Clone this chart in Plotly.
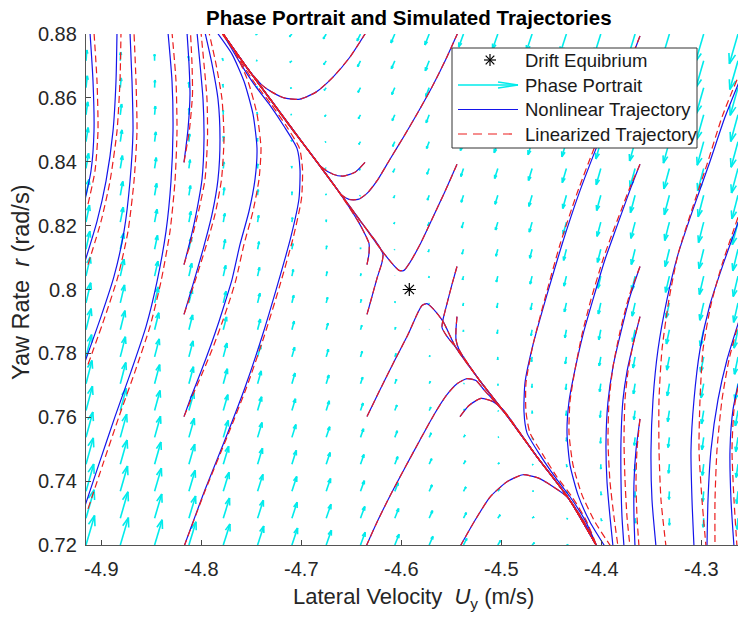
import numpy as np
import plotly.graph_objects as go

# ---------------- data ----------------
X_RANGE = [-4.9153, -4.2633]
Y_RANGE = [0.72, 0.88]

x_ticks = [-4.9, -4.8, -4.7, -4.6, -4.5, -4.4, -4.3]
x_tick_text = ["-4.9", "-4.8", "-4.7", "-4.6", "-4.5", "-4.4", "-4.3"]
y_ticks = [0.72, 0.74, 0.76, 0.78, 0.80, 0.82, 0.84, 0.86, 0.88]
y_tick_text = ["0.72", "0.74", "0.76", "0.78", "0.8", "0.82", "0.84", "0.86", "0.88"]

# quiver grid (20 x 20)
uy_grid = [-4.9153, -4.8810, -4.8467, -4.8124, -4.7780, -4.7437, -4.7094, -4.6751,
           -4.6408, -4.6065, -4.5721, -4.5378, -4.5035, -4.4692, -4.4349, -4.4005,
           -4.3662, -4.3319, -4.2976, -4.2633]
r_grid = [0.7200, 0.7284, 0.7368, 0.7453, 0.7537, 0.7621, 0.7705, 0.7789, 0.7874, 0.7958,
          0.8042, 0.8126, 0.8211, 0.8295, 0.8379, 0.8463, 0.8547, 0.8632, 0.8716, 0.8800]

# drift equilibrium
eq_uy = [-4.592]
eq_r = [0.800]

# local linearisation read from the arrow field (eigen-directions in data units, rates)
stable_dir = [1.0, 0.9]
unstable_dir = [1.0, -0.417]
eig_rates = [-1.0, 0.12]

# ---- trajectories: Uy lists (nonlinear "nl_", linearized "lin_") and shared r lists ----
upper_v_uy = [-4.5443, -4.5563, -4.5693, -4.5813, -4.5913, -4.5973, -4.6023, -4.6093, -4.6203,
              -4.6420, -4.6643, -4.6865, -4.7088, -4.7310, -4.7533, -4.7793]
upper_v_r = [0.8392, 0.8307, 0.8220, 0.8141, 0.8085, 0.8060, 0.8060, 0.8082, 0.8125,
             0.8220, 0.8314, 0.8408, 0.8502, 0.8596, 0.8690, 0.8805]
lower_v_uy = [-4.6343, -4.6213, -4.6063, -4.5933, -4.5843, -4.5793, -4.5743, -4.5683, -4.5583,
              -4.5453, -4.5223, -4.4943, -4.4643, -4.4323, -4.4043]
lower_v_r = [0.7602, 0.7686, 0.7780, 0.7859, 0.7922, 0.7950, 0.7956, 0.7940, 0.7900,
             0.7818, 0.7718, 0.7605, 0.7476, 0.7344, 0.7195]
top_u1_uy = [-4.6353, -4.6513, -4.6683, -4.6853, -4.7013, -4.7163, -4.7293, -4.7393, -4.7533, -4.7793]
top_u1_r = [0.8805, 0.8728, 0.8665, 0.8618, 0.8596, 0.8599, 0.8618, 0.8640, 0.8690, 0.8805]
bot_n1_uy = [-4.5413, -4.5273, -4.5113, -4.4943, -4.4783, -4.4633, -4.4493, -4.4343, -4.4183, -4.4043]
bot_n1_r = [0.7195, 0.7272, 0.7350, 0.7398, 0.7420, 0.7410, 0.7385, 0.7351, 0.7278, 0.7195]
top_u2_uy = [-4.5433, -4.5553, -4.5693, -4.5833, -4.5973, -4.6113, -4.6233, -4.6343, -4.6433,
             -4.6523, -4.6603, -4.6663, -4.6865, -4.7088, -4.7310, -4.7533, -4.7793]
top_u2_r = [0.8805, 0.8722, 0.8634, 0.8555, 0.8480, 0.8408, 0.8345, 0.8301, 0.8282,
            0.8282, 0.8298, 0.8323, 0.8408, 0.8502, 0.8596, 0.8690, 0.8805]
bot_n2_uy = [-4.6353, -4.6233, -4.6093, -4.5953, -4.5813, -4.5673, -4.5553, -4.5443, -4.5343,
             -4.5253, -4.5173, -4.4943, -4.4643, -4.4323, -4.4043]
bot_n2_r = [0.7195, 0.7278, 0.7366, 0.7448, 0.7529, 0.7608, 0.7667, 0.7705, 0.7721,
            0.7715, 0.7686, 0.7605, 0.7476, 0.7344, 0.7195]
top_u3_uy = [-4.6363, -4.6463, -4.6583, -4.6683, -4.6793, -4.6865, -4.7088, -4.7310, -4.7533, -4.7793]
top_u3_r = [0.8398, 0.8367, 0.8355, 0.8361, 0.8382, 0.8408, 0.8502, 0.8596, 0.8690, 0.8805]
bot_n3_uy = [-4.5413, -4.5323, -4.5203, -4.5083, -4.4983, -4.4643, -4.4323, -4.4043]
bot_n3_r = [0.7602, 0.7637, 0.7659, 0.7649, 0.7624, 0.7476, 0.7344, 0.7195]
stub_b3_uy = [-4.6343, -4.6293, -4.6243, -4.6193, -4.6183, -4.6233, -4.6423, -4.6643, -4.6863,
              -4.7093, -4.7313, -4.7533, -4.7793]
stub_b3_r = [0.7922, 0.7978, 0.8035, 0.8085, 0.8110, 0.8141, 0.8220, 0.8314, 0.8408,
             0.8502, 0.8596, 0.8690, 0.8805]
stub_b4_uy = [-4.6343, -4.6323, -4.6323, -4.6363, -4.6433, -4.6643, -4.6863, -4.7093, -4.7313,
              -4.7533, -4.7793]
stub_b4_r = [0.8078, 0.8113, 0.8144, 0.8173, 0.8214, 0.8314, 0.8408, 0.8502, 0.8596, 0.8690, 0.8805]
stub_c3_uy = [-4.5443, -4.5493, -4.5543, -4.5583, -4.5593, -4.5543, -4.5453, -4.5223, -4.4943,
              -4.4643, -4.4323, -4.4043]
stub_c3_r = [0.8072, 0.8016, 0.7956, 0.7906, 0.7881, 0.7853, 0.7818, 0.7718, 0.7605,
             0.7476, 0.7344, 0.7195]
stub_c4_uy = [-4.5443, -4.5453, -4.5453, -4.5423, -4.5223, -4.4943, -4.4643, -4.4323, -4.4043]
stub_c4_r = [0.7915, 0.7875, 0.7843, 0.7812, 0.7718, 0.7605, 0.7476, 0.7344, 0.7195]

# left-hand trajectories (start at Uy = -4.817)
a1_r = [0.7195, 0.7373, 0.7545, 0.7693, 0.7852, 0.8009, 0.8166, 0.8285, 0.8377, 0.8442,
        0.8511, 0.8581, 0.8643, 0.8715, 0.8784, 0.8805]
nl_a1_uy = [-4.8173, -4.7963, -4.7743, -4.7563, -4.7393, -4.7243, -4.7103, -4.7023, -4.7013,
            -4.7043, -4.7173, -4.7323, -4.7473, -4.7623, -4.7753, -4.7793]
lin_a1_uy = [-4.8173, -4.7958, -4.7733, -4.7548, -4.7373, -4.7218, -4.7078, -4.6998, -4.6988,
             -4.7018, -4.7148, -4.7303, -4.7458, -4.7608, -4.7743, -4.7788]
a2_r = [0.7602, 0.7671, 0.7743, 0.7827, 0.7900, 0.7969, 0.8031, 0.8141, 0.8245, 0.8345,
        0.8442, 0.8549, 0.8652, 0.8737, 0.8805]
nl_a2_uy = [-4.8173, -4.8093, -4.8003, -4.7903, -4.7823, -4.7753, -4.7693, -4.7613, -4.7523,
            -4.7463, -4.7443, -4.7483, -4.7573, -4.7693, -4.7843]
lin_a2_uy = [-4.8173, -4.8083, -4.7983, -4.7873, -4.7788, -4.7713, -4.7653, -4.7573, -4.7483,
             -4.7423, -4.7403, -4.7443, -4.7533, -4.7653, -4.7803]
a3_r = [0.7922, 0.8016, 0.8125, 0.8235, 0.8345, 0.8471, 0.8596, 0.8706, 0.8805]
nl_a3_uy = [-4.8173, -4.8083, -4.7983, -4.7893, -4.7833, -4.7813, -4.7833, -4.7893, -4.7963]
lin_a3_uy = [-4.8173, -4.8073, -4.7963, -4.7863, -4.7798, -4.7773, -4.7793, -4.7853, -4.7923]
a4_r = [0.8078, 0.8163, 0.8251, 0.8345, 0.8471, 0.8596, 0.8706, 0.8805]
nl_a4_uy = [-4.8173, -4.8103, -4.8043, -4.7993, -4.7973, -4.7983, -4.8013, -4.8043]
lin_a4_uy = [-4.8173, -4.8093, -4.8023, -4.7963, -4.7938, -4.7943, -4.7973, -4.8003]
a5_r = [0.8398, 0.8502, 0.8612, 0.8706, 0.8805]
nl_a5_uy = [-4.8173, -4.8133, -4.8113, -4.8123, -4.8143]
lin_a5_uy = [-4.8173, -4.8118, -4.8088, -4.8093, -4.8108]

# right-hand trajectories (start at Uy = -4.361)
d1_r = [0.8794, 0.8621, 0.8449, 0.8301, 0.8141, 0.7984, 0.7827, 0.7708, 0.7617, 0.7551,
        0.7482, 0.7413, 0.7351, 0.7278, 0.7195]
nl_d1_uy = [-4.3613, -4.3823, -4.4043, -4.4223, -4.4393, -4.4543, -4.4683, -4.4763, -4.4773,
            -4.4743, -4.4613, -4.4463, -4.4313, -4.4163, -4.4043]
lin_d1_uy = [-4.3613, -4.3833, -4.4063, -4.4243, -4.4413, -4.4553, -4.4683, -4.4753, -4.4753,
             -4.4713, -4.4583, -4.4443, -4.4293, -4.4153, -4.4043]
d2_r = [0.8392, 0.8320, 0.8251, 0.8173, 0.8094, 0.7969, 0.7859, 0.7749, 0.7649, 0.7551,
        0.7451, 0.7357, 0.7272, 0.7195]
nl_d2_uy = [-4.3613, -4.3703, -4.3783, -4.3873, -4.3963, -4.4083, -4.4183, -4.4263, -4.4323,
            -4.4343, -4.4313, -4.4233, -4.4113, -4.3963]
lin_d2_uy = [-4.3613, -4.3713, -4.3798, -4.3893, -4.3983, -4.4103, -4.4193, -4.4263, -4.4313,
             -4.4323, -4.4283, -4.4193, -4.4063, -4.3903]
d3_r = [0.8072, 0.7978, 0.7868, 0.7758, 0.7649, 0.7523, 0.7398, 0.7288, 0.7195]
nl_d3_uy = [-4.3613, -4.3713, -4.3803, -4.3883, -4.3933, -4.3953, -4.3943, -4.3913, -4.3883]
lin_d3_uy = [-4.3613, -4.3723, -4.3813, -4.3883, -4.3923, -4.3933, -4.3913, -4.3873, -4.3833]
d4_r = [0.7915, 0.7827, 0.7743, 0.7655, 0.7529, 0.7404, 0.7288, 0.7195]
nl_d4_uy = [-4.3613, -4.3683, -4.3743, -4.3783, -4.3803, -4.3803, -4.3793, -4.3773]
lin_d4_uy = [-4.3613, -4.3683, -4.3733, -4.3763, -4.3773, -4.3763, -4.3743, -4.3713]
d5_r = [0.7595, 0.7498, 0.7398, 0.7288, 0.7195]
nl_d5_uy = [-4.3613, -4.3653, -4.3673, -4.3673, -4.3663]
lin_d5_uy = [-4.3613, -4.3643, -4.3653, -4.3643, -4.3623]

# trajectories entering from outside the window (left and right)
ol1_r = [0.7313, 0.7454, 0.7602, 0.7743, 0.7884, 0.8025, 0.8182, 0.8339, 0.8496, 0.8653, 0.8805]
nl_ol1_uy = [-4.9173, -4.9023, -4.8863, -4.8703, -4.8553, -4.8443, -4.8353, -4.8303, -4.8283,
             -4.8293, -4.8333]
lin_ol1_uy = [-4.9133, -4.8983, -4.8823, -4.8663, -4.8513, -4.8403, -4.8313, -4.8263, -4.8243,
              -4.8253, -4.8293]
ol2_r = [0.7765, 0.7915, 0.8041, 0.8182, 0.8339, 0.8496, 0.8653, 0.8805]
nl_ol2_uy = [-4.9173, -4.9003, -4.8873, -4.8773, -4.8713, -4.8683, -4.8693, -4.8713]
lin_ol2_uy = [-4.9133, -4.8963, -4.8833, -4.8733, -4.8673, -4.8643, -4.8653, -4.8673]
ol3_r = [0.8078, 0.8213, 0.8339, 0.8496, 0.8653, 0.8805]
nl_ol3_uy = [-4.9173, -4.9043, -4.8953, -4.8883, -4.8853, -4.8843]
lin_ol3_uy = [-4.9133, -4.9003, -4.8913, -4.8843, -4.8813, -4.8803]
ol4_r = [0.8267, 0.8371, 0.8496, 0.8653, 0.8805]
nl_ol4_uy = [-4.9173, -4.9103, -4.9073, -4.9083, -4.9113]
lin_ol4_uy = [-4.9133, -4.9063, -4.9033, -4.9043, -4.9073]
or1_r = [0.8657, 0.8540, 0.8392, 0.8251, 0.8110, 0.7969, 0.7812, 0.7655, 0.7498, 0.7341, 0.7195]
nl_or1_uy = [-4.2613, -4.2763, -4.2923, -4.3083, -4.3233, -4.3343, -4.3433, -4.3483, -4.3503,
             -4.3493, -4.3453]
lin_or1_uy = [-4.2643, -4.2793, -4.2943, -4.3093, -4.3233, -4.3323, -4.3393, -4.3423, -4.3423,
              -4.3403, -4.3353]
or2_r = [0.8226, 0.8078, 0.7953, 0.7812, 0.7655, 0.7498, 0.7341, 0.7195]
nl_or2_uy = [-4.2613, -4.2783, -4.2913, -4.3013, -4.3073, -4.3103, -4.3093, -4.3073]
lin_or2_uy = [-4.2633, -4.2793, -4.2903, -4.2983, -4.3013, -4.3023, -4.2993, -4.2953]
or3_r = [0.7912, 0.7780, 0.7655, 0.7498, 0.7341, 0.7195]
nl_or3_uy = [-4.2613, -4.2743, -4.2833, -4.2903, -4.2933, -4.2943]
lin_or3_uy = [-4.2613, -4.2723, -4.2793, -4.2843, -4.2863, -4.2863]
or4_r = [0.7727, 0.7624, 0.7498, 0.7341, 0.7195]
nl_or4_uy = [-4.2613, -4.2683, -4.2713, -4.2703, -4.2673]
lin_or4_uy = [-4.2613, -4.2673, -4.2693, -4.2673, -4.2643]

# (nonlinear Uy, linearized Uy, r)
trajectories = [
    (upper_v_uy, upper_v_uy, upper_v_r), (lower_v_uy, lower_v_uy, lower_v_r),
    (top_u1_uy, top_u1_uy, top_u1_r), (bot_n1_uy, bot_n1_uy, bot_n1_r),
    (top_u2_uy, top_u2_uy, top_u2_r), (bot_n2_uy, bot_n2_uy, bot_n2_r),
    (top_u3_uy, top_u3_uy, top_u3_r), (bot_n3_uy, bot_n3_uy, bot_n3_r),
    (stub_b3_uy, stub_b3_uy, stub_b3_r), (stub_b4_uy, stub_b4_uy, stub_b4_r),
    (stub_c3_uy, stub_c3_uy, stub_c3_r), (stub_c4_uy, stub_c4_uy, stub_c4_r),
    (nl_a1_uy, lin_a1_uy, a1_r), (nl_a2_uy, lin_a2_uy, a2_r), (nl_a3_uy, lin_a3_uy, a3_r),
    (nl_a4_uy, lin_a4_uy, a4_r), (nl_a5_uy, lin_a5_uy, a5_r),
    (nl_d1_uy, lin_d1_uy, d1_r), (nl_d2_uy, lin_d2_uy, d2_r), (nl_d3_uy, lin_d3_uy, d3_r),
    (nl_d4_uy, lin_d4_uy, d4_r), (nl_d5_uy, lin_d5_uy, d5_r),
    (nl_ol1_uy, lin_ol1_uy, ol1_r), (nl_ol2_uy, lin_ol2_uy, ol2_r),
    (nl_ol3_uy, lin_ol3_uy, ol3_r), (nl_ol4_uy, lin_ol4_uy, ol4_r),
    (nl_or1_uy, lin_or1_uy, or1_r), (nl_or2_uy, lin_or2_uy, or2_r),
    (nl_or3_uy, lin_or3_uy, or3_r), (nl_or4_uy, lin_or4_uy, or4_r),
]

# ---------------- figure geometry ----------------
W, H = 755, 624
ML, MR, MT, MB = 86, 17, 34, 79
PW, PH = W - ML - MR, H - MT - MB
PX_X = PW / (X_RANGE[1] - X_RANGE[0])
PX_Y = PH / (Y_RANGE[1] - Y_RANGE[0])

FONT = "Liberation Sans, Arial, Helvetica, sans-serif"
CYAN = "rgb(0,235,235)"
BLUE = "rgb(20,20,235)"
RED = "rgb(235,30,30)"

fig = go.Figure()

# ---------------- quiver ----------------
M = np.array([[stable_dir[0], unstable_dir[0]], [stable_dir[1], unstable_dir[1]]])
Minv = np.linalg.inv(M)
tails, vecs = [], []
for gx in uy_grid:
    for gy in r_grid:
        a, b = Minv @ np.array([gx - eq_uy[0], gy - eq_r[0]])
        vx = eig_rates[0] * a * stable_dir[0] + eig_rates[1] * b * unstable_dir[0]
        vy = eig_rates[0] * a * stable_dir[1] + eig_rates[1] * b * unstable_dir[1]
        tails.append((gx, gy))
        vecs.append((vx * PX_X, vy * PX_Y))
lens = np.array([np.hypot(*v) for v in vecs])
scale = 31.0 / lens.max()
qx, qy = [], []
for (gx, gy), (px, py) in zip(tails, vecs):
    px *= scale
    py *= scale
    L = np.hypot(px, py)
    tx, ty = gx + px / PX_X, gy + py / PX_Y
    qx += [gx, tx, None]
    qy += [gy, ty, None]
    if L > 0.5:
        ux, uy_ = px / L, py / L
        hl, hw = 0.33 * L, 0.11 * L
        for s in (1, -1):
            bx = px - hl * ux + s * hw * (-uy_)
            by = py - hl * uy_ + s * hw * ux
            qx += [tx, gx + bx / PX_X, None]
            qy += [ty, gy + by / PX_Y, None]
fig.add_trace(go.Scatter(x=qx, y=qy, mode="lines", line=dict(color=CYAN, width=1.6),
                         hoverinfo="skip", showlegend=False))

# ---------------- trajectories ----------------
for nl_uy, _, rr in trajectories:
    fig.add_trace(go.Scatter(x=nl_uy, y=rr, mode="lines",
                             line=dict(color=BLUE, width=1.2, shape="spline", smoothing=0.6),
                             showlegend=False))
for _, lin_uy, rr in trajectories:
    fig.add_trace(go.Scatter(x=lin_uy, y=rr, mode="lines",
                             line=dict(color=RED, width=1.2, dash="7px,4px", shape="spline",
                                       smoothing=0.6),
                             showlegend=False))

# equilibrium
fig.add_trace(go.Scatter(x=eq_uy, y=eq_r, mode="markers",
                         marker=dict(symbol="asterisk-open", size=11, color="black",
                                     line=dict(color="black", width=1.2)),
                         showlegend=False))


# ---------------- legend (drawn) ----------------
def pxx(p):  # pixel -> paper x
    return (p - ML) / PW


def pxy(p):  # pixel -> paper y
    return (H - MB - p) / PH


shapes = []
shapes.append(dict(type="rect", xref="paper", yref="paper", x0=pxx(452), x1=pxx(697),
                   y0=pxy(148), y1=pxy(48), line=dict(color="#333", width=1),
                   fillcolor="white", layer="above"))
rows = [60, 85, 109.5, 134]
cx, cy = 490, rows[0]
for dx, dy in [(0, 6), (6, 0), (4.3, 4.3), (4.3, -4.3)]:
    shapes.append(dict(type="line", xref="paper", yref="paper", x0=pxx(cx - dx), x1=pxx(cx + dx),
                       y0=pxy(cy - dy), y1=pxy(cy + dy), line=dict(color="black", width=1.2),
                       layer="above"))
shapes.append(dict(type="line", xref="paper", yref="paper", x0=pxx(458), x1=pxx(518),
                   y0=pxy(rows[1]), y1=pxy(rows[1]), line=dict(color=CYAN, width=1.6), layer="above"))
for s in (1, -1):
    shapes.append(dict(type="line", xref="paper", yref="paper", x0=pxx(498), x1=pxx(518),
                       y0=pxy(rows[1] + 3 * s), y1=pxy(rows[1]), line=dict(color=CYAN, width=1.6),
                       layer="above"))
shapes.append(dict(type="line", xref="paper", yref="paper", x0=pxx(458), x1=pxx(518),
                   y0=pxy(rows[2]), y1=pxy(rows[2]), line=dict(color=BLUE, width=1.2), layer="above"))
shapes.append(dict(type="line", xref="paper", yref="paper", x0=pxx(458), x1=pxx(518),
                   y0=pxy(rows[3]), y1=pxy(rows[3]), line=dict(color=RED, width=1.2, dash="9px,6px"),
                   layer="above"))

legend_labels = ["Drift Equibrium", "Phase Portrait", "Nonlinear Trajectory", "Linearized Trajectory"]
annotations = []
for lab, ry in zip(legend_labels, rows):
    annotations.append(dict(text=lab, xref="paper", yref="paper", x=pxx(523), y=pxy(ry),
                            xanchor="left", yanchor="middle", showarrow=False,
                            font=dict(family=FONT, size=18.5, color="#1a1a1a")))

annotations.append(dict(text="<b>Phase Portrait and Simulated Trajectories</b>", xref="paper",
                        yref="paper", x=pxx(409), y=pxy(17), xanchor="center", yanchor="middle",
                        showarrow=False, font=dict(family=FONT, size=20.5, color="black")))
annotations.append(dict(text="Lateral Velocity\u00a0\u00a0<i>U</i><sub>y</sub> (m/s)", xref="paper",
                        yref="paper", x=pxx(413), y=pxy(598), xanchor="center", yanchor="middle",
                        showarrow=False, font=dict(family=FONT, size=22, color="#262626")))
annotations.append(dict(text="Yaw Rate\u00a0\u00a0<i>r</i> (rad/s)", xref="paper",
                        yref="paper", x=pxx(21), y=pxy(283), xanchor="center", yanchor="middle",
                        textangle=-90, showarrow=False,
                        font=dict(family=FONT, size=23.5, color="#262626")))

axis_common = dict(showgrid=False, zeroline=False, showline=True, linecolor="#555", linewidth=1.3,
                   ticks="inside", ticklen=5, tickcolor="#444", tickwidth=1,
                   tickfont=dict(family=FONT, size=20, color="#262626"), mirror=False)
fig.update_layout(
    width=W, height=H, margin=dict(l=ML, r=MR, t=MT, b=MB, autoexpand=False),
    paper_bgcolor="white", plot_bgcolor="white",
    xaxis=dict(range=X_RANGE, tickvals=x_ticks, ticktext=x_tick_text, ticklabelstandoff=6,
               **axis_common),
    yaxis=dict(range=Y_RANGE, tickvals=y_ticks, ticktext=y_tick_text, ticklabelstandoff=4,
               **axis_common),
    shapes=shapes, annotations=annotations, showlegend=False,
)
# the page body's default margin would shift the figure by 8px; remove it
fig.write_html("out.html", config={"displayModeBar": False},
               post_script="document.body.style.margin='0';")
